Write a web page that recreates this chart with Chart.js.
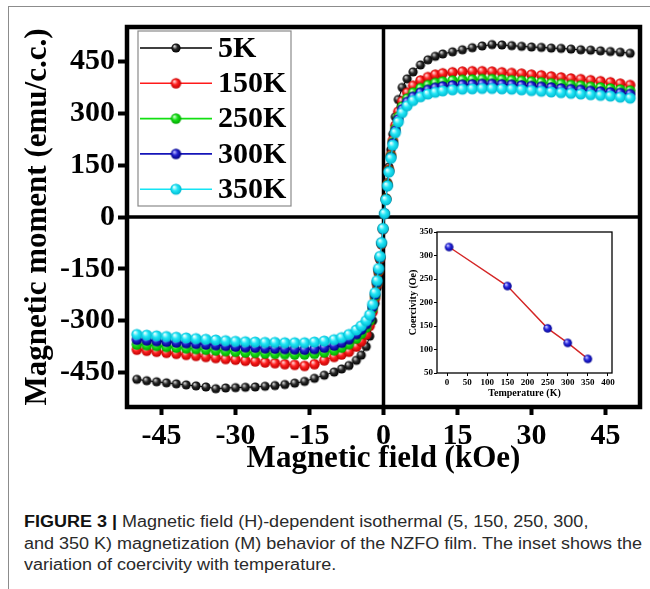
<!DOCTYPE html>
<html>
<head>
<meta charset="utf-8">
<script src="https://cdn.jsdelivr.net/npm/chart.js@4.4.0/dist/chart.umd.min.js"></script>
<style>
  body { margin: 0; background: #fff; }
  #wrap { position: relative; width: 650px; height: 589px; overflow: hidden; background: #fff; }
  #frame { position: absolute; left: 8px; top: 6px; right: -2px; bottom: -2px;
           border-left: 1.5px solid #8c8c8c; border-top: 1.5px solid #8c8c8c; }
  #main { position: absolute; left: 0; top: 0; }
  #inset { position: absolute; left: 395px; top: 225px; }
  #caption { position: absolute; left: 24px; top: 511px; font-family: 'Liberation Sans', Arial, sans-serif;
             font-size: 16px; line-height: 21.5px; white-space: nowrap; color: #2a2a2a;
             transform-origin: 0 0; }
  #caption b { color: #111; }
</style>
</head>
<body>
<div id="wrap">
  <div id="frame"></div>
  <canvas id="main" width="650" height="490"></canvas>
  <canvas id="inset" width="230" height="175"></canvas>
  <div id="caption">
    <div><span><b>FIGURE 3 |</b> Magnetic field (H)-dependent isothermal (5, 150, 250, 300,</span></div>
    <div><span id="longLine">and 350 K) magnetization (M) behavior of the NZFO film. The inset shows the</span></div>
    <div><span>variation of coercivity with temperature.</span></div>
  </div>
</div>
<script>
// === дані: петлі гістерезису (поле в kOe, момент в emu/c.c.) ===
const fieldKOe = [
  -50, -48, -46, -44, -42, -40, -38, -36, -34, -32,
  -30, -28, -26, -24, -22, -20, -18, -16, -14, -12,
  -10, -8.5, -7, -5.5, -4.5, -3.5, -2.8, -2.2, -1.7, -1.3,
  -1, -0.7, -0.4, -0.1, 0.2, 0.5, 0.8, 1.1, 1.5, 1.9,
  2.4, 3, 3.8, 4.8, 6, 7.5, 9, 10.5, 12, 14,
  16, 18, 20, 22, 24, 26, 28, 30, 32, 34,
  36, 38, 40, 42, 44, 46, 48, 50
];

const m5K = [
  -470, -474, -477, -480, -483, -486, -489, -492, -497, -495,
  -494, -493, -492, -490, -488, -485, -481, -476, -467, -458,
  -449, -440, -430, -415, -400, -375, -345, -300, -250, -205,
  -165, -125, -80, -35, 10, 55, 100, 145, 195, 240,
  290, 340, 375, 400, 420, 440, 455, 465, 472, 478,
  484, 490, 495, 499, 498, 496, 494, 492, 491, 489,
  488, 486, 484, 483, 481, 479, 477, 474
];

const m150K = [
  -384, -387, -390, -393, -396, -399, -402, -405, -408, -411,
  -413, -416, -418, -421, -423, -426, -428, -431, -426, -415,
  -405, -398, -390, -375, -360, -340, -315, -275, -235, -195,
  -158, -120, -78, -35, 10, 53, 95, 137, 180, 222,
  265, 305, 335, 360, 380, 395, 405, 412, 416, 419,
  421, 422, 422, 421, 419, 417, 415, 412, 410, 407,
  404, 401, 399, 396, 393, 390, 386, 382
];

const m250K = [
  -369, -371, -373, -376, -378, -380, -382, -384, -386, -388,
  -390, -392, -393, -395, -396, -397, -398, -398, -396, -392,
  -386, -378, -368, -352, -338, -320, -300, -265, -228, -190,
  -154, -117, -76, -34, 10, 52, 93, 134, 176, 216,
  255, 290, 320, 343, 360, 373, 382, 388, 392, 395,
  397, 398, 399, 399, 398, 396, 394, 392, 390, 387,
  385, 382, 380, 377, 375, 372, 369, 366
];

const m300K = [
  -355, -357, -359, -361, -363, -365, -367, -369, -371, -373,
  -375, -377, -378, -380, -381, -382, -383, -384, -382, -378,
  -372, -364, -354, -339, -326, -310, -292, -260, -224, -188,
  -152, -116, -75, -34, 10, 51, 91, 132, 173, 213,
  250, 283, 312, 333, 348, 360, 368, 374, 378, 381,
  383, 384, 385, 385, 384, 383, 381, 379, 377, 375,
  372, 370, 368, 365, 363, 361, 359, 356
];

const m350K = [
  -340, -342, -344, -346, -348, -350, -352, -354, -356, -358,
  -360, -361, -362, -363, -363, -364, -364, -364, -362, -359,
  -355, -349, -340, -327, -315, -300, -283, -253, -219, -184,
  -149, -114, -74, -33, 10, 50, 90, 130, 170, 208,
  244, 275, 302, 322, 337, 348, 356, 361, 365, 368,
  370, 371, 372, 372, 371, 370, 368, 366, 364, 362,
  360, 358, 356, 354, 352, 350, 347, 344
];

const seriesNames = ['5K', '150K', '250K', '300K', '350K'];
const seriesValues = [m5K, m150K, m250K, m300K, m350K];

// === дані: вставка (коерцитивність від температури) ===
const tempK = [5, 150, 250, 300, 350];
const coercivityOe = [318, 235, 145, 114, 80];

// кольори та "кульки" для маркерів
const palette = [
  { line: '#000000', hi: '#d0d0d0', base: '#2a2a2a', dark: '#000000', r: 4.6 },
  { line: '#ff1a1a', hi: '#ffd0d0', base: '#ff2020', dark: '#c00000', r: 5.2 },
  { line: '#12e012', hi: '#c8ffc8', base: '#18e018', dark: '#00a800', r: 5.2 },
  { line: '#1414b8', hi: '#b8b8ff', base: '#2020d0', dark: '#000080', r: 5.2 },
  { line: '#14e4f4', hi: '#e0ffff', base: '#22e6f6', dark: '#00b8d0', r: 5.6 }
];

function sphere(c, r) {
  const cv = document.createElement('canvas');
  const s = Math.ceil(r * 2 + 2);
  cv.width = cv.height = s;
  const g = cv.getContext('2d');
  const cx = s / 2;
  const grad = g.createRadialGradient(cx - r * 0.35, cx - r * 0.4, r * 0.1, cx, cx, r);
  grad.addColorStop(0, c.hi);
  grad.addColorStop(0.45, c.base);
  grad.addColorStop(1, c.dark);
  g.fillStyle = grad;
  g.beginPath();
  g.arc(cx, cx, r, 0, Math.PI * 2);
  g.fill();
  return cv;
}

const serif = 'Liberation Serif, Times New Roman, serif';

const datasets = seriesNames.map((name, i) => ({
  label: name,
  data: fieldKOe.map((h, k) => ({ x: h, y: seriesValues[i][k] })),
  showLine: true,
  borderColor: palette[i].line,
  borderWidth: 1,
  pointStyle: sphere(palette[i], palette[i].r),
  pointRadius: palette[i].r,
  order: seriesNames.length - i
}));

const mainPlugin = {
  id: 'mainFrame',
  beforeDatasetsDraw(chart) {
    const { ctx, chartArea: a, scales: { x, y } } = chart;
    const x0 = x.getPixelForValue(0);
    const y0 = y.getPixelForValue(0);
    ctx.save();
    ctx.strokeStyle = '#000';
    ctx.lineWidth = 3.5;
    ctx.beginPath();
    ctx.moveTo(a.left, y0); ctx.lineTo(a.right, y0);
    ctx.moveTo(x0, a.top); ctx.lineTo(x0, a.bottom);
    ctx.stroke();
    ctx.restore();
  },
  afterDraw(chart) {
    const { ctx, chartArea: a } = chart;
    ctx.save();
    ctx.strokeStyle = '#000';
    ctx.lineWidth = 4.5;
    ctx.strokeRect(a.left, a.top, a.right - a.left, a.bottom - a.top);

    // легенда у лівому верхньому куті
    const bx = a.left + 11, by = a.top + 4, bw = 153, bh = 175;
    ctx.fillStyle = '#fff';
    ctx.fillRect(bx, by, bw, bh);
    ctx.strokeStyle = '#8a8a8a';
    ctx.lineWidth = 1.2;
    ctx.strokeRect(bx, by, bw, bh);
    chart.data.datasets.forEach((ds, i) => {
      const ly = by + 17 + i * 35.3;
      ctx.strokeStyle = ds.borderColor;
      ctx.lineWidth = 1.6;
      ctx.beginPath();
      ctx.moveTo(bx + 2, ly); ctx.lineTo(bx + 74, ly);
      ctx.stroke();
      const img = ds.pointStyle;
      ctx.drawImage(img, bx + 38 - img.width / 2, ly - img.height / 2);
      ctx.fillStyle = '#000';
      ctx.font = 'bold 30px ' + serif;
      ctx.textBaseline = 'middle';
      ctx.textAlign = 'left';
      ctx.fillText(ds.label, bx + 80, ly + 1);
    });
    ctx.restore();
  }
};

new Chart(document.getElementById('main'), {
  type: 'scatter',
  data: { datasets },
  options: {
    responsive: false,
    animation: false,
    events: [],
    layout: { padding: { left: 0, top: 27, right: 10, bottom: 0 } },
    plugins: { legend: { display: false }, tooltip: { enabled: false } },
    scales: {
      x: {
        type: 'linear',
        min: -52,
        max: 52,
        ticks: {
          stepSize: 15,
          includeBounds: false,
          color: '#000',
          padding: 3,
          maxRotation: 0,
          font: { family: serif, weight: 'bold', size: 30 }
        },
        grid: { drawOnChartArea: false, tickLength: 8, tickWidth: 4, tickColor: '#000' },
        border: { display: false },
        title: {
          display: true,
          text: 'Magnetic field (kOe)',
          color: '#000',
          font: { family: serif, weight: 'bold', size: 31 },
          padding: { top: 0, bottom: 12 }
        },
        afterFit: s => { s.height = 83; }
      },
      y: {
        min: -550,
        max: 550,
        ticks: {
          stepSize: 150,
          includeBounds: false,
          color: '#000',
          padding: 3,
          font: { family: serif, weight: 'bold', size: 30 }
        },
        grid: { drawOnChartArea: false, tickLength: 9, tickWidth: 4, tickColor: '#000' },
        border: { display: false },
        title: {
          display: true,
          text: 'Magnetic moment (emu/c.c.)',
          color: '#000',
          font: { family: serif, weight: 'bold', size: 31 },
          padding: { top: 19, bottom: 0 }
        },
        afterFit: s => { s.width = 127; }
      }
    }
  },
  plugins: [mainPlugin]
});

// === вставка ===
const insetPlugin = {
  id: 'insetFrame',
  afterDraw(chart) {
    const { ctx, chartArea: a } = chart;
    ctx.save();
    ctx.strokeStyle = '#000';
    ctx.lineWidth = 1.3;
    ctx.strokeRect(a.left, a.top, a.right - a.left, a.bottom - a.top);
    ctx.restore();
  }
};

const insetFont = { family: serif, weight: 'bold', size: 9 };

new Chart(document.getElementById('inset'), {
  type: 'scatter',
  data: {
    datasets: [{
      data: tempK.map((t, i) => ({ x: t, y: coercivityOe[i] })),
      showLine: true,
      borderColor: '#d42626',
      borderWidth: 1.4,
      pointStyle: sphere({ hi: '#c8c8ff', base: '#2a2ae0', dark: '#000090' }, 4.3),
      pointRadius: 4.3
    }]
  },
  options: {
    responsive: false,
    animation: false,
    events: [],
    layout: { padding: { left: 0, top: 7, right: 13, bottom: 0 } },
    plugins: { legend: { display: false }, tooltip: { enabled: false } },
    scales: {
      x: {
        type: 'linear',
        min: -25,
        max: 410,
        ticks: { stepSize: 50, includeBounds: false, color: '#000', padding: 1, maxRotation: 0, font: insetFont },
        grid: { drawOnChartArea: false, tickLength: 3, tickWidth: 1, tickColor: '#000' },
        border: { display: false },
        title: {
          display: true, text: 'Temperature (K)', color: '#000',
          font: { family: serif, weight: 'bold', size: 10 },
          padding: { top: 0, bottom: 1 }
        },
        afterFit: s => { s.height = 27; }
      },
      y: {
        min: 50,
        max: 350,
        ticks: { stepSize: 50, includeBounds: false, color: '#000', padding: 1, font: insetFont },
        grid: { drawOnChartArea: false, tickLength: 3, tickWidth: 1, tickColor: '#000' },
        border: { display: false },
        title: {
          display: true, text: 'Coercivity (Oe)', color: '#000',
          font: { family: serif, weight: 'bold', size: 10 },
          padding: { top: 12, bottom: 0 }
        },
        afterFit: s => { s.width = 42; }
      }
    }
  },
  plugins: [insetPlugin]
});

// підпис: стискаємо по ширині, щоб довший рядок займав ~618 px
const cap = document.getElementById('caption');
const longW = document.getElementById('longLine').getBoundingClientRect().width;
cap.style.transform = 'scaleX(' + (618 / longW).toFixed(4) + ')';
</script>
</body>
</html>
